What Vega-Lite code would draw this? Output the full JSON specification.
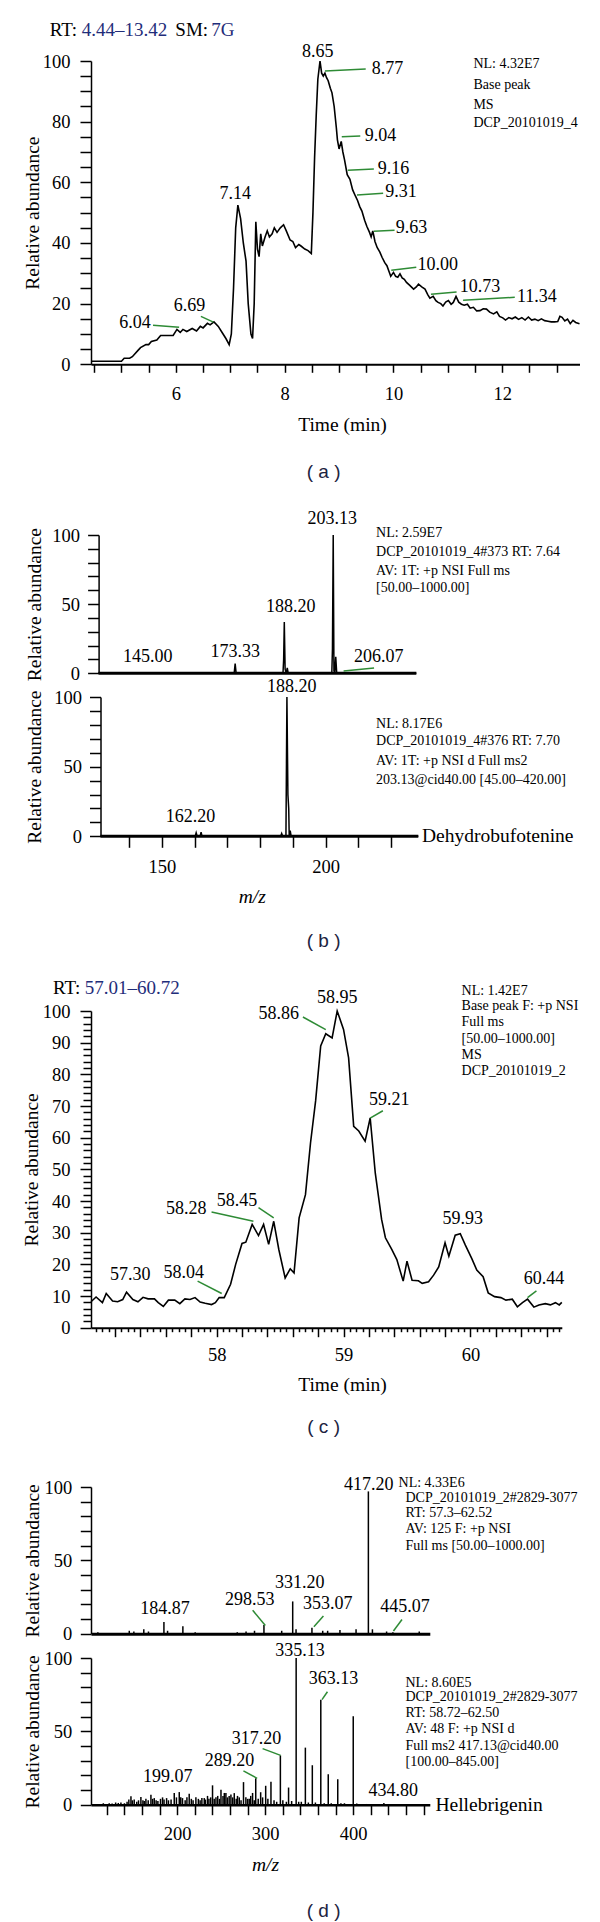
{
"$schema": "https://vega.github.io/schema/vega-lite/v6.json",
"padding": {"left": 21, "top": 21, "right": 0, "bottom": 0},
"background": "white",
"config": {
  "font": "Liberation Serif, Times New Roman, serif",
  "view": {"stroke": null},
  "text": {"font": "Liberation Serif, Times New Roman, serif", "color": "#000000"},
  "axis": {"labelFont": "Liberation Serif, Times New Roman, serif", "titleFont": "Liberation Serif, Times New Roman, serif", "labelFontSize": 18.5, "titleFontSize": 19.5, "titleFontWeight": "normal", "domainColor": "#000000", "tickColor": "#000000", "labelColor": "#000000", "titleColor": "#000000", "domainWidth": 1.5, "tickWidth": 1.5, "grid": false, "labelFlush": false, "labelOverlap": false, "labelBound": false}
},
"datasets": {
  "none": [],
  "a_line": [{"x":4.44,"y":1},{"x":4.7,"y":1},{"x":5.0,"y":1},{"x":5.05,"y":2},{"x":5.15,"y":2},{"x":5.2,"y":2.5},{"x":5.3,"y":4.5},{"x":5.35,"y":5.5},{"x":5.45,"y":6.5},{"x":5.5,"y":6.5},{"x":5.55,"y":7.5},{"x":5.65,"y":8},{"x":5.72,"y":9.5},{"x":5.95,"y":9.5},{"x":6.02,"y":11.5},{"x":6.08,"y":10.5},{"x":6.13,"y":11.5},{"x":6.2,"y":10.8},{"x":6.3,"y":11.8},{"x":6.38,"y":11},{"x":6.45,"y":12.5},{"x":6.5,"y":12},{"x":6.58,"y":13.5},{"x":6.63,"y":13},{"x":6.7,"y":14},{"x":6.78,"y":12.5},{"x":6.85,"y":10.5},{"x":6.92,"y":8.5},{"x":6.98,"y":6.5},{"x":7.02,"y":10},{"x":7.06,"y":25},{"x":7.1,"y":45},{"x":7.14,"y":52.5},{"x":7.19,"y":48},{"x":7.24,"y":40},{"x":7.29,"y":34},{"x":7.33,"y":20},{"x":7.38,"y":10},{"x":7.41,"y":8.5},{"x":7.44,"y":20},{"x":7.47,"y":47},{"x":7.5,"y":38},{"x":7.53,"y":35.5},{"x":7.56,"y":43},{"x":7.59,"y":39},{"x":7.64,"y":42},{"x":7.68,"y":44},{"x":7.72,"y":42},{"x":7.77,"y":43},{"x":7.81,"y":45},{"x":7.86,"y":43.5},{"x":7.92,"y":45},{"x":7.98,"y":46},{"x":8.03,"y":44},{"x":8.1,"y":41},{"x":8.15,"y":40.5},{"x":8.2,"y":38.5},{"x":8.26,"y":39.5},{"x":8.3,"y":39},{"x":8.37,"y":38},{"x":8.43,"y":37.5},{"x":8.49,"y":36.5},{"x":8.52,"y":50},{"x":8.55,"y":68},{"x":8.58,"y":82},{"x":8.61,"y":94},{"x":8.65,"y":100},{"x":8.68,"y":96},{"x":8.71,"y":95},{"x":8.74,"y":96},{"x":8.77,"y":94.5},{"x":8.8,"y":93.5},{"x":8.84,"y":91},{"x":8.87,"y":89.5},{"x":8.91,"y":85},{"x":8.95,"y":78},{"x":8.97,"y":74},{"x":9.0,"y":71},{"x":9.04,"y":73.5},{"x":9.07,"y":70},{"x":9.1,"y":67.5},{"x":9.15,"y":62.5},{"x":9.2,"y":61},{"x":9.25,"y":57.5},{"x":9.3,"y":55.5},{"x":9.34,"y":54},{"x":9.38,"y":52},{"x":9.42,"y":50.5},{"x":9.47,"y":47.5},{"x":9.51,"y":45.5},{"x":9.56,"y":43.5},{"x":9.59,"y":42},{"x":9.62,"y":44},{"x":9.66,"y":40.5},{"x":9.7,"y":38.5},{"x":9.75,"y":37},{"x":9.79,"y":35.3},{"x":9.84,"y":33.5},{"x":9.88,"y":32.5},{"x":9.92,"y":30.5},{"x":9.95,"y":29},{"x":10.0,"y":30.3},{"x":10.04,"y":29},{"x":10.08,"y":28.7},{"x":10.12,"y":29.8},{"x":10.16,"y":28.5},{"x":10.2,"y":28},{"x":10.24,"y":27},{"x":10.3,"y":26},{"x":10.37,"y":24.8},{"x":10.42,"y":25.5},{"x":10.46,"y":26.4},{"x":10.52,"y":25.5},{"x":10.58,"y":24.8},{"x":10.63,"y":23},{"x":10.67,"y":21.8},{"x":10.73,"y":22.4},{"x":10.78,"y":21},{"x":10.82,"y":20.4},{"x":10.87,"y":20},{"x":10.91,"y":19.2},{"x":10.96,"y":20.5},{"x":11.01,"y":21},{"x":11.06,"y":19.8},{"x":11.1,"y":20.4},{"x":11.15,"y":22.4},{"x":11.2,"y":20.5},{"x":11.25,"y":19.8},{"x":11.3,"y":19.5},{"x":11.36,"y":19.8},{"x":11.41,"y":18.5},{"x":11.47,"y":18.8},{"x":11.53,"y":17.6},{"x":11.59,"y":17.7},{"x":11.65,"y":18.3},{"x":11.71,"y":18.2},{"x":11.77,"y":17.2},{"x":11.84,"y":16.6},{"x":11.9,"y":17.3},{"x":11.95,"y":15.8},{"x":12.01,"y":15.3},{"x":12.06,"y":14.6},{"x":12.12,"y":15.4},{"x":12.18,"y":15},{"x":12.24,"y":15.6},{"x":12.3,"y":14.8},{"x":12.36,"y":15.4},{"x":12.42,"y":14.6},{"x":12.48,"y":15.6},{"x":12.54,"y":14.6},{"x":12.6,"y":14.9},{"x":12.66,"y":14.4},{"x":12.72,"y":15},{"x":12.78,"y":14.4},{"x":12.84,"y":14.2},{"x":12.9,"y":14},{"x":12.96,"y":14},{"x":13.02,"y":14.1},{"x":13.06,"y":15.8},{"x":13.1,"y":15.5},{"x":13.15,"y":14.3},{"x":13.2,"y":14.9},{"x":13.25,"y":13.4},{"x":13.3,"y":14.5},{"x":13.35,"y":13.8},{"x":13.42,"y":13.4}],
  "a_lead": [{"x":8.74,"y":96.7,"x2":9.49,"y2":97.4},{"x":9.05,"y":75,"x2":9.39,"y2":75.3},{"x":9.16,"y":64,"x2":9.64,"y2":64.4},{"x":9.33,"y":55.8,"x2":9.81,"y2":56.4},{"x":9.64,"y":43.9,"x2":10.02,"y2":44.2},{"x":9.96,"y":31,"x2":10.42,"y2":32},{"x":10.69,"y":23.1,"x2":11.16,"y2":23.8},{"x":11.28,"y":21.1,"x2":12.23,"y2":22.1},{"x":5.58,"y":12.9,"x2":6.06,"y2":12.2},{"x":6.46,"y":15.8,"x2":6.69,"y2":13.9}],
  "a_lab": [{"x":8.61,"y":103,"t":"8.65","a":"c"},{"x":9.6,"y":97.4,"t":"8.77","a":"l"},{"x":9.47,"y":75.3,"t":"9.04","a":"l"},{"x":9.71,"y":64.4,"t":"9.16","a":"l"},{"x":9.85,"y":56.9,"t":"9.31","a":"l"},{"x":10.04,"y":45.1,"t":"9.63","a":"l"},{"x":10.44,"y":32.7,"t":"10.00","a":"l"},{"x":11.22,"y":25.6,"t":"10.73","a":"l"},{"x":12.27,"y":22.3,"t":"11.34","a":"l"},{"x":5.54,"y":13.5,"t":"6.04","a":"r"},{"x":6.25,"y":19.2,"t":"6.69","a":"c"},{"x":7.09,"y":56.1,"t":"7.14","a":"c"}],
  "a_info": [{"x":11.47,"y":98.9,"t":"NL: 4.32E7"},{"x":11.47,"y":92.1,"t":"Base peak"},{"x":11.47,"y":85.4,"t":"MS"},{"x":11.47,"y":79.5,"t":"DCP_20101019_4"}],
  "a_title": [{"x":3.68,"y":110.2,"t":"RT:","k":"key"},{"x":4.27,"y":110.2,"t":"4.44–13.42","k":"val"},{"x":5.99,"y":110.2,"t":"SM:","k":"key"},{"x":6.65,"y":110.2,"t":"7G","k":"val"}],
  "a_cap": [{"x":8.716,"y":-35.6,"t":"( a )"}],
  "b1_base": [{"x":131.5,"x2":228.5,"y":0}],
  "b1_line": [{"x":131.5,"y":0},{"x":172.9,"y":0},{"x":173.2,"y":7},{"x":173.5,"y":0},{"x":187.8,"y":0},{"x":188.0,"y":10},{"x":188.2,"y":37},{"x":188.45,"y":3},{"x":188.8,"y":0},{"x":189.1,"y":4},{"x":189.4,"y":0},{"x":202.7,"y":0},{"x":202.9,"y":18},{"x":203.13,"y":100},{"x":203.35,"y":2},{"x":203.6,"y":0},{"x":203.9,"y":12},{"x":204.2,"y":0},{"x":228.5,"y":0}],
  "b1_lab": [{"x":202.8,"y":111.6,"t":"203.13"},{"x":190.2,"y":48,"t":"188.20"},{"x":173.2,"y":15.4,"t":"173.33"},{"x":146.5,"y":11.8,"t":"145.00"},{"x":217.0,"y":11.8,"t":"206.07"}],
  "b1_lead": [{"x":206.3,"y":1.7,"x2":215.6,"y2":3.8}],
  "b1_info": [{"x":216.2,"y":101.4,"t":"NL: 2.59E7"},{"x":216.2,"y":87.7,"t":"DCP_20101019_4#373 RT: 7.64"},{"x":216.2,"y":74,"t":"AV: 1T: +p NSI Full ms"},{"x":216.2,"y":61.7,"t":"[50.00–1000.00]"}],
  "b2_base": [{"x":131.3,"x2":228.3,"y":0}],
  "b2_line": [{"x":131.3,"y":0},{"x":160.2,"y":0},{"x":160.5,"y":2.5},{"x":160.8,"y":0},{"x":161.7,"y":0},{"x":162.0,"y":3},{"x":162.3,"y":0},{"x":186.3,"y":0},{"x":186.6,"y":2},{"x":186.9,"y":0},{"x":187.9,"y":0},{"x":188.2,"y":100},{"x":188.5,"y":30},{"x":188.75,"y":20},{"x":188.9,"y":0},{"x":189.2,"y":4},{"x":189.5,"y":0},{"x":228.3,"y":0}],
  "b2_lab": [{"x":189.7,"y":107,"t":"188.20"},{"x":158.8,"y":13.6,"t":"162.20"}],
  "b2_name": [{"x":229.4,"y":0,"t":"Dehydrobufotenine"}],
  "b2_info": [{"x":215.4,"y":80.4,"t":"NL: 8.17E6"},{"x":215.4,"y":68.2,"t":"DCP_20101019_4#376 RT: 7.70"},{"x":215.4,"y":53.8,"t":"AV: 1T: +p NSI d Full ms2"},{"x":215.4,"y":40.2,"t":"203.13@cid40.00 [45.00–420.00]"}],
  "b2_cap": [{"x":199.4,"y":-75.4,"t":"( b )"}],
  "c_line": [{"x":57.01,"y":8.2},{"x":57.05,"y":9.7},{"x":57.1,"y":7.9},{"x":57.13,"y":10.8},{"x":57.18,"y":8.4},{"x":57.22,"y":8.2},{"x":57.26,"y":8.9},{"x":57.29,"y":11.2},{"x":57.34,"y":8.9},{"x":57.38,"y":8.2},{"x":57.42,"y":9.6},{"x":57.46,"y":9.1},{"x":57.51,"y":9.1},{"x":57.54,"y":7.9},{"x":57.58,"y":6.7},{"x":57.62,"y":8.7},{"x":57.67,"y":8.7},{"x":57.71,"y":7.6},{"x":57.75,"y":9.1},{"x":57.79,"y":8.9},{"x":57.83,"y":9.5},{"x":57.87,"y":8.1},{"x":57.91,"y":7.7},{"x":57.96,"y":7.3},{"x":57.99,"y":7.9},{"x":58.02,"y":9.5},{"x":58.06,"y":9.5},{"x":58.11,"y":13.7},{"x":58.15,"y":20},{"x":58.2,"y":26.6},{"x":58.23,"y":27},{"x":58.28,"y":32.6},{"x":58.33,"y":29.1},{"x":58.37,"y":32.6},{"x":58.41,"y":26.3},{"x":58.45,"y":33.6},{"x":58.49,"y":24.7},{"x":58.54,"y":15.7},{"x":58.58,"y":18.6},{"x":58.61,"y":17.3},{"x":58.65,"y":34.7},{"x":58.7,"y":42},{"x":58.74,"y":58.4},{"x":58.78,"y":71.6},{"x":58.82,"y":89},{"x":58.86,"y":92.8},{"x":58.91,"y":91.5},{"x":58.95,"y":100},{"x":59.0,"y":94.2},{"x":59.04,"y":85.2},{"x":59.08,"y":63.6},{"x":59.12,"y":62.1},{"x":59.17,"y":58.9},{"x":59.21,"y":66.2},{"x":59.25,"y":48.9},{"x":59.3,"y":34.2},{"x":59.33,"y":28.4},{"x":59.38,"y":24.7},{"x":59.42,"y":21.5},{"x":59.47,"y":14.7},{"x":59.5,"y":21},{"x":59.54,"y":15},{"x":59.59,"y":14.8},{"x":59.62,"y":14},{"x":59.67,"y":14.5},{"x":59.71,"y":16.6},{"x":59.75,"y":19.2},{"x":59.8,"y":26.8},{"x":59.83,"y":22.6},{"x":59.88,"y":29.2},{"x":59.92,"y":29.7},{"x":59.96,"y":26.1},{"x":60.01,"y":21.9},{"x":60.05,"y":18.2},{"x":60.1,"y":16.1},{"x":60.14,"y":11},{"x":60.19,"y":9.8},{"x":60.24,"y":9.5},{"x":60.28,"y":8.7},{"x":60.33,"y":9},{"x":60.37,"y":6.6},{"x":60.41,"y":7.9},{"x":60.45,"y":9},{"x":60.5,"y":6.5},{"x":60.54,"y":7.2},{"x":60.59,"y":7.6},{"x":60.63,"y":7.2},{"x":60.67,"y":7.9},{"x":60.7,"y":7.2},{"x":60.72,"y":8}],
  "c_lab": [{"x":57.32,"y":16.5,"t":"57.30"},{"x":57.74,"y":17.3,"t":"58.04"},{"x":57.76,"y":37.5,"t":"58.28"},{"x":58.16,"y":40,"t":"58.45"},{"x":58.49,"y":99.2,"t":"58.86"},{"x":58.95,"y":104,"t":"58.95"},{"x":59.36,"y":71.8,"t":"59.21"},{"x":59.94,"y":34.2,"t":"59.93"},{"x":60.58,"y":15.5,"t":"60.44"}],
  "c_lead": [{"x":57.85,"y":14.7,"x2":58.04,"y2":10.8},{"x":57.96,"y":36.5,"x2":58.29,"y2":33.6},{"x":58.33,"y":37.9,"x2":58.45,"y2":34.7},{"x":58.68,"y":98.1,"x2":58.86,"y2":94.1},{"x":59.21,"y":66.2,"x2":59.31,"y2":68.5},{"x":60.45,"y":9.5,"x2":60.52,"y2":11.6}],
  "c_info": [{"x":59.93,"y":106.3,"t":"NL: 1.42E7"},{"x":59.93,"y":101.6,"t":"Base peak F: +p NSI"},{"x":59.93,"y":96.5,"t":"Full ms"},{"x":59.93,"y":91.2,"t":"[50.00–1000.00]"},{"x":59.93,"y":86.1,"t":"MS"},{"x":59.93,"y":81.1,"t":"DCP_20101019_2"}],
  "c_title": [{"x":56.71,"y":107.4,"t":"RT:","k":"key"},{"x":56.96,"y":107.4,"t":"57.01–60.72","k":"val"}],
  "c_cap": [{"x":58.843,"y":-31.3,"t":"( c )"}],
  "d1_stick": [{"x":109.8,"y":1},{"x":145.5,"y":2},{"x":150.7,"y":1.5},{"x":162,"y":3},{"x":167.3,"y":1.5},{"x":184.87,"y":8},{"x":189,"y":2},{"x":206.4,"y":5},{"x":220.4,"y":1},{"x":268.2,"y":1},{"x":278.2,"y":1.5},{"x":287.8,"y":2},{"x":298.53,"y":6},{"x":318.7,"y":2},{"x":331.2,"y":22},{"x":335,"y":3},{"x":353.07,"y":4},{"x":365.3,"y":2},{"x":370.9,"y":2},{"x":384.9,"y":2.5},{"x":403.2,"y":3},{"x":417.2,"y":97},{"x":421.8,"y":3},{"x":437.9,"y":1.5},{"x":445.07,"y":1},{"x":475,"y":1.5}],
  "d1_lab": [{"x":417.5,"y":101.5,"t":"417.20"},{"x":186,"y":16.9,"t":"184.87"},{"x":282.5,"y":23.2,"t":"298.53"},{"x":339.2,"y":34.9,"t":"331.20"},{"x":370.9,"y":20.3,"t":"353.07"},{"x":458.8,"y":18.2,"t":"445.07"}],
  "d1_lead": [{"x":285.7,"y":16,"x2":300.1,"y2":5.6},{"x":366.1,"y":12,"x2":355.3,"y2":4.7},{"x":455.4,"y":9.7,"x2":445.7,"y2":1.8}],
  "d1_info": [{"x":451.5,"y":102.5,"t":"NL: 4.33E6"},{"x":459.4,"y":92.5,"t":"DCP_20101019_2#2829-3077"},{"x":459.4,"y":82,"t":"RT: 57.3–62.52"},{"x":459.4,"y":71.2,"t":"AV: 125 F: +p NSI"},{"x":459.4,"y":60,"t":"Full ms [50.00–1000.00]"}],
  "d2_stick": [{"x":110,"y":0.5},{"x":116,"y":1},{"x":122.7,"y":1},{"x":126,"y":0.8},{"x":130,"y":1.5},{"x":133,"y":1.2},{"x":136,"y":1.5},{"x":140,"y":1},{"x":143,"y":2},{"x":145,"y":3.5},{"x":147.4,"y":5.7},{"x":149,"y":3},{"x":151.1,"y":3.5},{"x":154,"y":2},{"x":156,"y":3},{"x":158.7,"y":5.2},{"x":161,"y":3},{"x":162.5,"y":2.5},{"x":164.4,"y":4},{"x":167,"y":3},{"x":170.1,"y":6.8},{"x":172,"y":4},{"x":173.9,"y":4.5},{"x":176,"y":3},{"x":178,"y":2.5},{"x":181,"y":4},{"x":183.3,"y":5},{"x":185,"y":3.5},{"x":187.9,"y":4.5},{"x":190,"y":3},{"x":193,"y":3.5},{"x":196.6,"y":7.9},{"x":199.07,"y":5},{"x":202.3,"y":8.6},{"x":204,"y":5},{"x":206,"y":4.5},{"x":209,"y":3},{"x":211,"y":5},{"x":213.6,"y":7.5},{"x":216,"y":4},{"x":218,"y":3},{"x":221.2,"y":5},{"x":224,"y":4},{"x":226,"y":3},{"x":228,"y":4.5},{"x":230.7,"y":4.5},{"x":232,"y":3.5},{"x":234.4,"y":6},{"x":236,"y":4},{"x":238,"y":5},{"x":240.1,"y":13.2},{"x":242,"y":4},{"x":244,"y":5},{"x":246,"y":6},{"x":248,"y":4},{"x":249.7,"y":10.2},{"x":252,"y":6},{"x":253.5,"y":8},{"x":255.3,"y":8},{"x":257,"y":5},{"x":259,"y":6},{"x":261,"y":7},{"x":263,"y":5},{"x":264.8,"y":7.9},{"x":267,"y":4},{"x":268.5,"y":6},{"x":270.5,"y":5},{"x":272.5,"y":3},{"x":275.3,"y":15.4},{"x":278,"y":5},{"x":280,"y":4},{"x":281.8,"y":4},{"x":283.5,"y":6},{"x":285.6,"y":8},{"x":287.5,"y":3},{"x":289.2,"y":18},{"x":292,"y":4},{"x":294.8,"y":8.5},{"x":297,"y":5},{"x":300.5,"y":12.9},{"x":303,"y":4},{"x":306.5,"y":15.6},{"x":310,"y":3},{"x":313,"y":2},{"x":317.2,"y":33.6},{"x":320,"y":3},{"x":324,"y":2},{"x":326.5,"y":11.7},{"x":330,"y":2.5},{"x":335.13,"y":100},{"x":338,"y":2},{"x":341,"y":2},{"x":345.6,"y":38.9},{"x":349,"y":1.5},{"x":353.5,"y":26.9},{"x":357,"y":1.5},{"x":363.13,"y":71.6},{"x":367,"y":1},{"x":371.6,"y":20.8},{"x":375,"y":1},{"x":382.4,"y":17.4},{"x":386,"y":1},{"x":390,"y":1},{"x":400,"y":60.3},{"x":404,"y":0.8},{"x":415,"y":0.5},{"x":434.8,"y":1.2},{"x":450,"y":0.5}],
  "d2_lab": [{"x":339.5,"y":105,"t":"335.13"},{"x":377.5,"y":85.7,"t":"363.13"},{"x":290,"y":44.5,"t":"317.20"},{"x":259.5,"y":29.7,"t":"289.20"},{"x":189.1,"y":18.8,"t":"199.07"},{"x":445.5,"y":9.1,"t":"434.80"}],
  "d2_lead": [{"x":275.2,"y":23,"x2":290.8,"y2":18},{"x":297,"y":38.2,"x2":317.5,"y2":33.6},{"x":370.7,"y":77,"x2":364.5,"y2":71.6}],
  "d2_name": [{"x":493.4,"y":0,"t":"Hellebrigenin"}],
  "d2_info": [{"x":459.4,"y":83,"t":"NL: 8.60E5"},{"x":459.4,"y":73.2,"t":"DCP_20101019_2#2829-3077"},{"x":459.4,"y":62.5,"t":"RT: 58.72–62.50"},{"x":459.4,"y":51.6,"t":"AV: 48 F: +p NSI d"},{"x":459.4,"y":40.2,"t":"Full ms2 417.13@cid40.00"},{"x":459.4,"y":28.9,"t":"[100.00–845.00]"}],
  "d2_cap": [{"x":366.3,"y":-72.5,"t":"( d )"}]
},
"bounds": "flush",
"spacing": 0,
"resolve": {"scale": {"x": "independent", "y": "independent"}},
"vconcat": [
   {"width": 488.5, "height": 303.3,
    "encoding": {
     "x": {"field": "x", "type": "quantitative", "scale": {"domain": [4.44, 13.42], "nice": false, "zero": false},
       "axis": {"title": "Time (min)", "values": [4.5,5,5.5,6,6.5,7,7.5,8,8.5,9,9.5,10,10.5,11,11.5,12,12.5,13], "labelExpr": "datum.value % 2 === 0 ? format(datum.value, 'd') : ''", "tickSize": 8, "labelPadding": 12, "domainWidth": 2, "titleX": 251, "titleY": 60, "titleBaseline": "middle"}},
     "y": {"field": "y", "type": "quantitative", "scale": {"domain": [0, 100], "nice": false, "zero": false},
       "axis": {"title": "Relative abundance", "values": [0,5,10,15,20,25,30,35,40,45,50,55,60,65,70,75,80,85,90,95,100], "labelExpr": "datum.value % 20 === 0 ? datum.label : ''", "tickSize": 11, "labelPadding": 10, "titleX": -59, "titleBaseline": "middle"}}
    },
    "layer": [
     {"data": {"name": "a_line"}, "mark": {"type": "line", "color": "#000000", "strokeWidth": 1.6}},
     {"data": {"name": "a_lead"}, "mark": {"type": "rule", "color": "#2e8b35", "strokeWidth": 1.5}, "encoding": {"x2": {"field": "x2"}, "y2": {"field": "y2"}}},
     {"data": {"name": "a_lab"}, "transform": [{"filter": "datum.a === 'c'"}], "mark": {"type": "text", "fontSize": 18, "align": "center", "baseline": "middle"}, "encoding": {"text": {"field": "t", "type": "nominal"}}},
     {"data": {"name": "a_lab"}, "transform": [{"filter": "datum.a === 'l'"}], "mark": {"type": "text", "fontSize": 18, "align": "left", "baseline": "middle"}, "encoding": {"text": {"field": "t", "type": "nominal"}}},
     {"data": {"name": "a_lab"}, "transform": [{"filter": "datum.a === 'r'"}], "mark": {"type": "text", "fontSize": 18, "align": "right", "baseline": "middle"}, "encoding": {"text": {"field": "t", "type": "nominal"}}},
     {"data": {"name": "a_info"}, "mark": {"type": "text", "fontSize": 14, "align": "left", "baseline": "middle"}, "encoding": {"text": {"field": "t", "type": "nominal"}}},
     {"data": {"name": "a_title"}, "mark": {"type": "text", "fontSize": 19, "align": "left", "baseline": "middle"}, "encoding": {"text": {"field": "t", "type": "nominal"}, "color": {"field": "k", "type": "nominal", "scale": {"domain": ["key", "val"], "range": ["#000000", "#1f2d7a"]}, "legend": null}}},
     {"data": {"name": "a_cap"}, "mark": {"type": "text", "font": "Liberation Sans, Arial, sans-serif", "fontSize": 19, "align": "center", "baseline": "middle", "color": "#1c2340"}, "encoding": {"text": {"field": "t", "type": "nominal"}}}
    ]
   },
   {"width": 1, "height": 170, "data": {"name": "none"}, "mark": "point"},
   {"width": 327.3, "height": 138.3,
    "encoding": {
     "x": {"field": "x", "type": "quantitative", "scale": {"domain": [129.2, 229.1], "nice": false, "zero": false}, "axis": {"domain": false, "ticks": false, "labels": false, "title": null}},
     "y": {"field": "y", "type": "quantitative", "scale": {"domain": [0, 100], "nice": false, "zero": false},
       "axis": {"title": "Relative abundance", "offset": -7.6, "values": [0,10,20,30,40,50,60,70,80,90,100], "labelExpr": "datum.value % 50 === 0 ? datum.label : ''", "tickSize": 11, "labelPadding": 8, "titleX": -64, "titleBaseline": "middle"}}
    },
    "layer": [
     {"data": {"name": "b1_base"}, "mark": {"type": "rule", "color": "#000000", "strokeWidth": 3}, "encoding": {"x2": {"field": "x2"}}},
     {"data": {"name": "b1_line"}, "mark": {"type": "line", "color": "#000000", "strokeWidth": 1.5}},
     {"data": {"name": "b1_lead"}, "mark": {"type": "rule", "color": "#2e8b35", "strokeWidth": 1.5}, "encoding": {"x2": {"field": "x2"}, "y2": {"field": "y2"}}},
     {"data": {"name": "b1_lab"}, "mark": {"type": "text", "fontSize": 18, "align": "center", "baseline": "middle"}, "encoding": {"text": {"field": "t", "type": "nominal"}}},
     {"data": {"name": "b1_info"}, "mark": {"type": "text", "fontSize": 14, "align": "left", "baseline": "middle"}, "encoding": {"text": {"field": "t", "type": "nominal"}}}
    ]
   },
   {"width": 1, "height": 22.4, "data": {"name": "none"}, "mark": "point"},
   {"width": 327.3, "height": 139.3,
    "encoding": {
     "x": {"field": "x", "type": "quantitative", "scale": {"domain": [128.4, 228.3], "nice": false, "zero": false},
       "axis": {"domain": false, "title": "m/z", "titleFontStyle": "italic", "values": [140,150,160,170,180,190,200,210,220], "labelExpr": "datum.value % 50 === 0 ? datum.label : ''", "tickSize": 11, "labelPadding": 10, "titleX": 160.7, "titleY": 60, "titleBaseline": "middle"}},
     "y": {"field": "y", "type": "quantitative", "scale": {"domain": [0, 100], "nice": false, "zero": false},
       "axis": {"title": "Relative abundance", "offset": -9.5, "values": [0,10,20,30,40,50,60,70,80,90,100], "labelExpr": "datum.value % 50 === 0 ? datum.label : ''", "tickSize": 11, "labelPadding": 8, "titleX": -66, "titleBaseline": "middle"}}
    },
    "layer": [
     {"data": {"name": "b2_base"}, "mark": {"type": "rule", "color": "#000000", "strokeWidth": 3}, "encoding": {"x2": {"field": "x2"}}},
     {"data": {"name": "b2_line"}, "mark": {"type": "line", "color": "#000000", "strokeWidth": 1.5}},
     {"data": {"name": "b2_lab"}, "mark": {"type": "text", "fontSize": 18, "align": "center", "baseline": "middle"}, "encoding": {"text": {"field": "t", "type": "nominal"}}},
     {"data": {"name": "b2_name"}, "mark": {"type": "text", "fontSize": 19.5, "align": "left", "baseline": "middle"}, "encoding": {"text": {"field": "t", "type": "nominal"}}},
     {"data": {"name": "b2_info"}, "mark": {"type": "text", "fontSize": 14, "align": "left", "baseline": "middle"}, "encoding": {"text": {"field": "t", "type": "nominal"}}},
     {"data": {"name": "b2_cap"}, "mark": {"type": "text", "font": "Liberation Sans, Arial, sans-serif", "fontSize": 19, "align": "center", "baseline": "middle", "color": "#1c2340"}, "encoding": {"text": {"field": "t", "type": "nominal"}}}
    ]
   },
   {"width": 1, "height": 173.3, "data": {"name": "none"}, "mark": "point"},
   {"width": 470.8, "height": 316.7,
    "encoding": {
     "x": {"field": "x", "type": "quantitative", "scale": {"domain": [57.01, 60.72], "nice": false, "zero": false},
       "axis": {"title": "Time (min)", "values": [57.05,57.1,57.15,57.2,57.25,57.3,57.35,57.4,57.45,57.5,57.55,57.6,57.65,57.7,57.75,57.8,57.85,57.9,57.95,58,58.05,58.1,58.15,58.2,58.25,58.3,58.35,58.4,58.45,58.5,58.55,58.6,58.65,58.7,58.75,58.8,58.85,58.9,58.95,59,59.05,59.1,59.15,59.2,59.25,59.3,59.35,59.4,59.45,59.5,59.55,59.6,59.65,59.7,59.75,59.8,59.85,59.9,59.95,60,60.05,60.1,60.15,60.2,60.25,60.3,60.35,60.4,60.45,60.5,60.55,60.6,60.65,60.7], "labelExpr": "abs(datum.value - round(datum.value)) < 0.001 ? format(round(datum.value), 'd') : ''", "tickSize": {"condition": {"test": "abs(datum.value * 5 - round(datum.value * 5)) < 0.01", "value": 9}, "value": 4}, "labelPadding": 9, "domainWidth": 2, "titleX": 251, "titleY": 56.7, "titleBaseline": "middle"}},
     "y": {"field": "y", "type": "quantitative", "scale": {"domain": [0, 100], "nice": false, "zero": false},
       "axis": {"title": "Relative abundance", "values": [0,2,4,6,8,10,12,14,16,18,20,22,24,26,28,30,32,34,36,38,40,42,44,46,48,50,52,54,56,58,60,62,64,66,68,70,72,74,76,78,80,82,84,86,88,90,92,94,96,98,100], "labelExpr": "datum.value % 10 === 0 ? datum.label : ''", "tickSize": {"condition": {"test": "datum.value % 10 === 0", "value": 11}, "value": 8}, "labelPadding": 10, "titleX": -59.4, "titleBaseline": "middle"}}
    },
    "layer": [
     {"data": {"name": "c_line"}, "mark": {"type": "line", "color": "#000000", "strokeWidth": 1.6}},
     {"data": {"name": "c_lead"}, "mark": {"type": "rule", "color": "#2e8b35", "strokeWidth": 1.5}, "encoding": {"x2": {"field": "x2"}, "y2": {"field": "y2"}}},
     {"data": {"name": "c_lab"}, "mark": {"type": "text", "fontSize": 18, "align": "center", "baseline": "middle"}, "encoding": {"text": {"field": "t", "type": "nominal"}}},
     {"data": {"name": "c_info"}, "mark": {"type": "text", "fontSize": 14, "align": "left", "baseline": "middle"}, "encoding": {"text": {"field": "t", "type": "nominal"}}},
     {"data": {"name": "c_title"}, "mark": {"type": "text", "fontSize": 19, "align": "left", "baseline": "middle"}, "encoding": {"text": {"field": "t", "type": "nominal"}, "color": {"field": "k", "type": "nominal", "scale": {"domain": ["key", "val"], "range": ["#000000", "#1f2d7a"]}, "legend": null}}},
     {"data": {"name": "c_cap"}, "mark": {"type": "text", "font": "Liberation Sans, Arial, sans-serif", "fontSize": 19, "align": "center", "baseline": "middle", "color": "#1c2340"}, "encoding": {"text": {"field": "t", "type": "nominal"}}}
    ]
   },
   {"width": 1, "height": 159, "data": {"name": "none"}, "mark": "point"},
   {"width": 338.8, "height": 146.7,
    "encoding": {
     "x": {"field": "x", "type": "quantitative", "scale": {"domain": [102, 487], "nice": false, "zero": false}, "axis": {"ticks": false, "labels": false, "title": null, "domainWidth": 3}},
     "y": {"field": "y", "type": "quantitative", "scale": {"domain": [0, 100], "nice": false, "zero": false},
       "axis": {"title": "Relative abundance", "values": [0,10,20,30,40,50,60,70,80,90,100], "labelExpr": "datum.value % 50 === 0 ? datum.label : ''", "tickSize": 10.7, "labelPadding": 8.5, "titleX": -58.4, "titleBaseline": "middle"}}
    },
    "layer": [
     {"data": {"name": "d1_stick"}, "mark": {"type": "rule", "color": "#000000", "strokeWidth": 1.5}, "encoding": {"y2": {"datum": 0}}},
     {"data": {"name": "d1_lead"}, "mark": {"type": "rule", "color": "#2e8b35", "strokeWidth": 1.5}, "encoding": {"x2": {"field": "x2"}, "y2": {"field": "y2"}}},
     {"data": {"name": "d1_lab"}, "mark": {"type": "text", "fontSize": 18, "align": "center", "baseline": "middle"}, "encoding": {"text": {"field": "t", "type": "nominal"}}},
     {"data": {"name": "d1_info"}, "mark": {"type": "text", "fontSize": 14, "align": "left", "baseline": "middle"}, "encoding": {"text": {"field": "t", "type": "nominal"}}}
    ]
   },
   {"width": 1, "height": 23.3, "data": {"name": "none"}, "mark": "point"},
   {"width": 338.8, "height": 146.7,
    "encoding": {
     "x": {"field": "x", "type": "quantitative", "scale": {"domain": [102, 487], "nice": false, "zero": false},
       "axis": {"title": "m/z", "titleFontStyle": "italic", "values": [120,140,160,180,200,220,240,260,280,300,320,340,360,380,400,420,440,460,480], "labelExpr": "datum.value % 100 === 0 ? datum.label : ''", "tickSize": 10, "labelPadding": 10, "domainWidth": 2.5, "titleX": 174, "titleY": 59.3, "titleBaseline": "middle"}},
     "y": {"field": "y", "type": "quantitative", "scale": {"domain": [0, 100], "nice": false, "zero": false},
       "axis": {"title": "Relative abundance", "values": [0,10,20,30,40,50,60,70,80,90,100], "labelExpr": "datum.value % 50 === 0 ? datum.label : ''", "tickSize": 10.7, "labelPadding": 8.5, "titleX": -58.4, "titleBaseline": "middle"}}
    },
    "layer": [
     {"data": {"name": "d2_stick"}, "mark": {"type": "rule", "color": "#000000", "strokeWidth": 1.5}, "encoding": {"y2": {"datum": 0}}},
     {"data": {"name": "d2_lead"}, "mark": {"type": "rule", "color": "#2e8b35", "strokeWidth": 1.5}, "encoding": {"x2": {"field": "x2"}, "y2": {"field": "y2"}}},
     {"data": {"name": "d2_lab"}, "mark": {"type": "text", "fontSize": 18, "align": "center", "baseline": "middle"}, "encoding": {"text": {"field": "t", "type": "nominal"}}},
     {"data": {"name": "d2_name"}, "mark": {"type": "text", "fontSize": 19.5, "align": "left", "baseline": "middle"}, "encoding": {"text": {"field": "t", "type": "nominal"}}},
     {"data": {"name": "d2_info"}, "mark": {"type": "text", "fontSize": 14, "align": "left", "baseline": "middle"}, "encoding": {"text": {"field": "t", "type": "nominal"}}},
     {"data": {"name": "d2_cap"}, "mark": {"type": "text", "font": "Liberation Sans, Arial, sans-serif", "fontSize": 19, "align": "center", "baseline": "middle", "color": "#1c2340"}, "encoding": {"text": {"field": "t", "type": "nominal"}}}
    ]
   }
]
}
